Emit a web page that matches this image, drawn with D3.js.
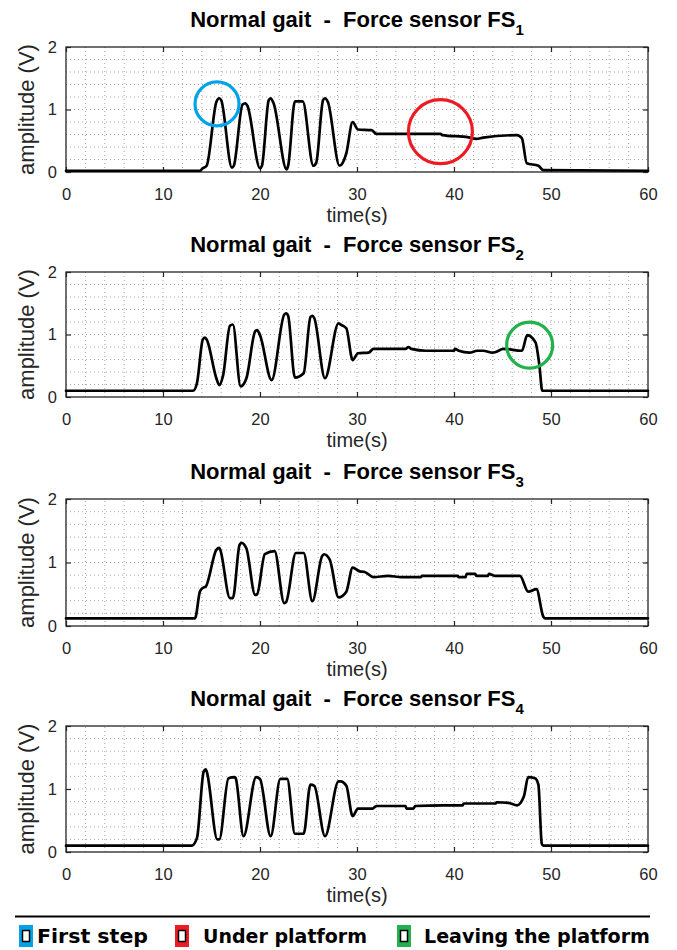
<!DOCTYPE html>
<html>
<head>
<meta charset="utf-8">
<script src="https://cdn.jsdelivr.net/npm/d3@7"></script>
<style>
  html, body { margin: 0; padding: 0; background: #fff; }
  svg { display: block; }
</style>
</head>
<body>
<svg id="chart" width="677" height="950"></svg>
<script>
// ---------------- DATA ----------------
const xTicks = [0, 10, 20, 30, 40, 50, 60];
const yTicks = [0, 1, 2];
const titleText = "Normal gait  -  Force sensor FS";
const sensorIndex = ["1", "2", "3", "4"];
const xLabel = "time(s)";
const yLabel = "amplitude (V)";

const fs1Time = [0, 13.8, 14.1, 14.5, 15.5, 15.8, 16.0, 17.1, 17.3, 18.2, 18.5, 18.7, 20.0, 20.2, 20.9, 21.1, 21.4, 22.75, 22.9, 23.6, 24.4, 25.5, 25.8, 26.5, 26.7, 27.0, 28.2, 28.9, 29.55, 30.1, 31.5, 32.0, 38.6, 38.8, 41.5, 42.3, 43.0, 46.5, 47.0, 47.5, 48.7, 49.2, 60];
const fs1Value = [0.02, 0.02, 0.06, 0.1, 1.12, 1.18, 1.15, 0.07, 0.1, 1.08, 1.1, 1.06, 0.06, 0.1, 1.15, 1.18, 1.1, 0.04, 0.1, 1.13, 1.13, 0.1, 0.15, 1.15, 1.18, 1.12, 0.1, 0.3, 0.8, 0.68, 0.67, 0.61, 0.61, 0.59, 0.555, 0.53, 0.55, 0.59, 0.54, 0.14, 0.1, 0.03, 0.02];

const fs2Time = [0, 13.1, 13.5, 14.1, 14.3, 14.5, 15.5, 15.8, 16.2, 16.9, 17.2, 18.0, 18.6, 19.5, 19.7, 20.0, 21.2, 22.5, 22.7, 22.9, 23.6, 24.5, 25.2, 25.4, 25.6, 26.7, 28.1, 28.3, 28.9, 29.55, 30.1, 31.2, 31.7, 34.5, 35.0, 35.3, 35.6, 37.1, 40.0, 40.1, 40.5, 41.6, 42.4, 43.0, 44.0, 44.3, 45.1, 47.0, 47.55, 48.4, 48.8, 49.1, 60];
const fs2Value = [0.1, 0.1, 0.22, 0.92, 0.95, 0.92, 0.3, 0.19, 0.35, 1.14, 1.16, 0.17, 0.3, 1.05, 1.07, 0.99, 0.27, 1.32, 1.34, 1.3, 0.31, 0.38, 1.28, 1.3, 1.26, 0.3, 1.18, 1.16, 1.1, 0.59, 0.7, 0.71, 0.77, 0.77, 0.77, 0.8, 0.77, 0.74, 0.74, 0.77, 0.74, 0.71, 0.74, 0.74, 0.71, 0.72, 0.77, 0.74, 0.99, 0.875, 0.51, 0.1, 0.1];

const fs3Time = [0, 13.3, 13.8, 14.1, 14.4, 15.5, 15.8, 15.9, 16.9, 17.2, 17.9, 18.1, 18.6, 19.5, 19.7, 20.5, 21.5, 22.5, 22.7, 23.7, 24.5, 25.4, 26.4, 26.6, 27.2, 28.1, 28.9, 29.55, 30.3, 30.8, 31.7, 33.2, 34.6, 36.6, 36.7, 40.4, 40.45, 41.2, 41.3, 42.2, 42.3, 43.5, 43.6, 44.2, 46.8, 47.65, 48.5, 49.2, 49.4, 60];
const fs3Value = [0.12, 0.12, 0.54, 0.6, 0.62, 1.2, 1.23, 1.2, 0.44, 0.44, 1.28, 1.31, 1.22, 0.49, 0.5, 1.13, 1.18, 0.36, 0.38, 1.15, 1.15, 0.39, 1.1, 1.13, 1.04, 0.45, 0.54, 0.92, 0.86, 0.85, 0.77, 0.79, 0.77, 0.77, 0.79, 0.79, 0.77, 0.77, 0.82, 0.82, 0.79, 0.79, 0.82, 0.79, 0.79, 0.54, 0.58, 0.15, 0.12, 0.12];

const fs4Time = [0, 12.95, 13.5, 14.2, 14.4, 14.5, 15.6, 15.8, 16.75, 17.4, 17.5, 18.3, 19.6, 20.0, 21.1, 22.1, 22.8, 23.6, 24.5, 25.2, 25.6, 26.7, 28.1, 28.3, 28.9, 29.55, 30.1, 31.6, 32.0, 35.0, 35.1, 35.8, 36.0, 38.9, 40.9, 41.0, 44.3, 44.4, 45.6, 46.5, 47.2, 47.65, 48.35, 48.7, 49.05, 49.2, 60];
const fs4Value = [0.1, 0.1, 0.22, 1.28, 1.31, 1.28, 0.2, 0.2, 1.17, 1.19, 1.17, 0.25, 1.19, 1.16, 0.25, 1.16, 1.16, 0.29, 0.29, 1.07, 1.05, 0.25, 1.12, 1.12, 1.05, 0.57, 0.69, 0.69, 0.73, 0.73, 0.69, 0.69, 0.73, 0.74, 0.74, 0.77, 0.77, 0.79, 0.78, 0.74, 0.88, 1.19, 1.17, 1.07, 0.13, 0.1, 0.1];

// annotation circles: panel index, time, value
const markPanel = [0, 0, 1];
const markTime = [15.57, 38.6, 47.8];
const markValue = [1.09, 0.645, 0.83];

const legendLabels = ["First step", "Under platform", "Leaving the platform"];

// ---------------- LAYOUT / STYLE ----------------
const seriesTime = [fs1Time, fs2Time, fs3Time, fs4Time];
const seriesValue = [fs1Value, fs2Value, fs3Value, fs4Value];
const panelTop = [47, 272, 499, 726];
const panelBottom = [172, 397, 626, 852];
const plotLeft = 66, plotRight = 648;
const markColors = ["#00a2e8", "#ed1c24", "#22b14c"];
const markRadius = [22, 32, 23];
const axisColor = "#262626";
const fontFam = "'Liberation Sans', Arial, Helvetica, sans-serif";

const svg = d3.select("#chart");
svg.append("rect").attr("width", 677).attr("height", 950).attr("fill", "#fff");

const defs = svg.append("defs");
defs.append("clipPath").attr("id", "clip0")
  .append("rect").attr("x", 0).attr("y", 0).attr("width", 677).attr("height", 225);

for (let i = 0; i < 4; i++) {
  const x = d3.scaleLinear().domain([0, 60]).range([plotLeft, plotRight]);
  const y = d3.scaleLinear().domain([0, 2]).range([panelBottom[i], panelTop[i]]);
  const g = svg.append("g");

  // minor grid
  const gridG = g.append("g").attr("stroke", "#a8a8a8").attr("stroke-width", 1)
    .attr("stroke-dasharray", "1,3");
  d3.range(2, 60, 2).forEach(t => {
    gridG.append("line").attr("x1", x(t)).attr("x2", x(t))
      .attr("y1", y(0)).attr("y2", y(2));
  });
  d3.range(1, 10).forEach(k => {
    const v = k * 0.2;
    gridG.append("line").attr("x1", x(0)).attr("x2", x(60))
      .attr("y1", y(v)).attr("y2", y(v));
  });

  // axes
  const bottomAxis = d3.axisBottom(x).tickValues(xTicks).tickSizeInner(-5).tickSizeOuter(0).tickPadding(16).tickFormat(d3.format("d"));
  const topAxis = d3.axisTop(x).tickValues(xTicks).tickSizeInner(-5).tickSizeOuter(0).tickFormat("");
  const leftAxis = d3.axisLeft(y).tickValues(yTicks).tickSizeInner(-5).tickSizeOuter(0).tickPadding(9).tickFormat(d3.format("d"));
  const rightAxis = d3.axisRight(y).tickValues(yTicks).tickSizeInner(-5).tickSizeOuter(0).tickFormat("");

  const styleAxis = sel => {
    sel.select(".domain").remove();
    sel.selectAll("line").attr("stroke", axisColor).attr("stroke-width", 1.2);
    sel.selectAll("text").attr("fill", axisColor).style("font-family", fontFam).style("font-size", "16.5px");
  };
  g.append("g").attr("transform", `translate(0,${y(0)})`).call(bottomAxis).call(styleAxis);
  g.append("g").attr("transform", `translate(0,${y(2)})`).call(topAxis).call(styleAxis);
  g.append("g").attr("transform", `translate(${x(0)},0)`).call(leftAxis).call(styleAxis);
  g.append("g").attr("transform", `translate(${x(60)},0)`).call(rightAxis).call(styleAxis);

  // box
  g.append("rect").attr("x", x(0)).attr("y", y(2))
    .attr("width", x(60) - x(0)).attr("height", y(0) - y(2))
    .attr("fill", "none").attr("stroke", axisColor).attr("stroke-width", 1.3);

  // signal
  const pts = seriesTime[i].map((t, j) => [t, seriesValue[i][j]]);
  g.append("path").datum(pts)
    .attr("d", d3.line().curve(d3.curveMonotoneX).x(d => x(d[0])).y(d => y(d[1])))
    .attr("fill", "none").attr("stroke", "#000").attr("stroke-width", 2.7)
    .attr("stroke-linejoin", "round").attr("stroke-linecap", "round");

  // title
  const title = g.append("text")
    .attr("x", (plotLeft + plotRight) / 2).attr("y", panelTop[i] - 20)
    .attr("text-anchor", "middle").attr("fill", "#000")
    .attr("xml:space", "preserve").style("white-space", "pre")
    .style("font-family", fontFam).style("font-size", "22px").style("font-weight", "bold");
  title.append("tspan").text(titleText);
  title.append("tspan").attr("dy", 8).style("font-size", "15px").text(sensorIndex[i]);

  // x label
  const xl = g.append("text")
    .attr("x", (plotLeft + plotRight) / 2).attr("y", y(0) + 50)
    .attr("text-anchor", "middle").attr("fill", axisColor)
    .style("font-family", fontFam).style("font-size", "20px").text(xLabel);
  if (i === 0) xl.attr("clip-path", "url(#clip0)");

  // y label
  g.append("text")
    .attr("transform", `translate(34,${(y(0) + y(2)) / 2}) rotate(-90)`)
    .attr("text-anchor", "middle").attr("fill", axisColor)
    .style("font-family", fontFam).style("font-size", "22px").text(yLabel);
}

// annotation circles
markPanel.forEach((p, k) => {
  const x = d3.scaleLinear().domain([0, 60]).range([plotLeft, plotRight]);
  const y = d3.scaleLinear().domain([0, 2]).range([panelBottom[p], panelTop[p]]);
  svg.append("circle").attr("cx", x(markTime[k])).attr("cy", y(markValue[k]))
    .attr("r", markRadius[k]).attr("fill", "none")
    .attr("stroke", markColors[k]).attr("stroke-width", 3.2);
});

// legend
svg.append("line").attr("x1", 15).attr("x2", 650).attr("y1", 916.5).attr("y2", 916.5)
  .attr("stroke", "#000").attr("stroke-width", 2);
const legX = [19, 175, 397];
const legTextX = [37, 203, 424];
const legTextW = [111, 164, 226];
legendLabels.forEach((lab, k) => {
  svg.append("rect").attr("x", legX[k]).attr("y", 925).attr("width", 14).attr("height", 22)
    .attr("fill", markColors[k]);
  svg.append("rect").attr("x", legX[k] + 3.5).attr("y", 930.5).attr("width", 7).attr("height", 11)
    .attr("fill", "#fff").attr("stroke", "#000").attr("stroke-width", 1.5);
  svg.append("text").attr("x", legTextX[k]).attr("y", 943)
    .attr("textLength", legTextW[k]).attr("lengthAdjust", "spacingAndGlyphs")
    .attr("fill", "#000")
    .style("font-family", "'DejaVu Sans', Verdana, sans-serif").style("font-size", "19.5px").style("font-weight", "bold")
    .text(lab);
});
</script>
</body>
</html>
